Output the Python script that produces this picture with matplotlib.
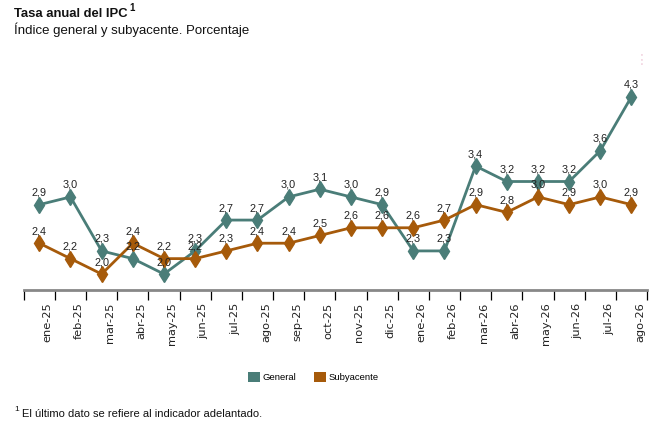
import numpy as np
import matplotlib.pyplot as plt
from matplotlib.patches import Patch

# datos
meses = ["ene-25", "feb-25", "mar-25", "abr-25", "may-25", "jun-25", "jul-25",
         "ago-25", "sep-25", "oct-25", "nov-25", "dic-25", "ene-26", "feb-26",
         "mar-26", "abr-26", "may-26", "jun-26", "jul-26", "ago-26"]
general = [2.9, 3.0, 2.3, 2.2, 2.0, 2.3, 2.7, 2.7, 3.0, 3.1,
           3.0, 2.9, 2.3, 2.3, 3.4, 3.2, 3.2, 3.2, 3.6, 4.3]
subyacente = [2.4, 2.2, 2.0, 2.4, 2.2, 2.2, 2.3, 2.4, 2.4, 2.5,
              2.6, 2.6, 2.6, 2.7, 2.9, 2.8, 3.0, 2.9, 3.0, 2.9]

c_gen = "#4a7d78"
c_sub = "#a65a0a"
txt_font = ["Liberation Sans", "DejaVu Sans"]

fig = plt.figure(figsize=(6.61, 4.26), dpi=100)
ax = fig.add_axes([0.0359, 0.3192, 0.943, 0.5165])

x = np.arange(len(meses))
ax.plot(x, general, color=c_gen, lw=2.0, marker="d", ms=8, zorder=3)
ax.plot(x, subyacente, color=c_sub, lw=2.0, marker="d", ms=8, zorder=3)

# etiquetas de valores
for serie in (general, subyacente):
    for i, v in enumerate(serie):
        ax.annotate(f"{v:.1f}".replace(".", ","), (i, v), xytext=(0, 5),
                    textcoords="offset points", ha="center", va="bottom",
                    fontsize=7.8, family=txt_font, color="#222222", zorder=4)

ax.set_xlim(-0.5, len(meses) - 0.5)
ax.set_ylim(1.793, 4.646)

for s in ("top", "right", "left"):
    ax.spines[s].set_visible(False)
ax.spines["bottom"].set_color("#888888")
ax.spines["bottom"].set_linewidth(2)
ax.set_yticks([])

# marcas entre meses y etiquetas algo desplazadas
ax.set_xticks(np.arange(len(meses) + 1) - 0.5, minor=True)
ax.tick_params(axis="x", which="minor", length=7, width=0.9, color="black")
ax.set_xticks(x + 0.27)
ax.set_xticklabels(meses, rotation=90, fontsize=8.2, color="#222222")
ax.tick_params(axis="x", which="major", length=0, pad=9)

# leyenda
handles = [Patch(facecolor=c_gen, label="General"),
           Patch(facecolor=c_sub, label="Subyacente")]
fig.legend(handles=handles, loc="center", bbox_to_anchor=(0.474, 0.115),
           ncol=2, frameon=False, handlelength=1.25, handleheight=1.25,
           handletextpad=0.3, columnspacing=1.9,
           prop={"family": txt_font, "size": 6.8})

# titulos y nota
fig.text(0.021, 0.982, "Tasa anual del IPC", fontsize=9.4, fontweight="bold",
         family=txt_font, va="top", color="#111111")
fig.text(0.196, 0.992, "1", fontsize=7, fontweight="bold",
         family=txt_font, va="top", color="#111111")
fig.text(0.021, 0.947, "Índice general y subyacente. Porcentaje", fontsize=9.5,
         family=txt_font, va="top", color="#111111")
fig.text(0.021, 0.036, "1", fontsize=6, family=txt_font, color="#111111")
fig.text(0.033, 0.02, "El último dato se refiere al indicador adelantado.",
         fontsize=8, family=txt_font, color="#111111")
fig.text(0.971, 0.86, "⋮", fontsize=10, color="#f0cfdc", ha="center", va="center")

plt.savefig("out.png", dpi=100)
